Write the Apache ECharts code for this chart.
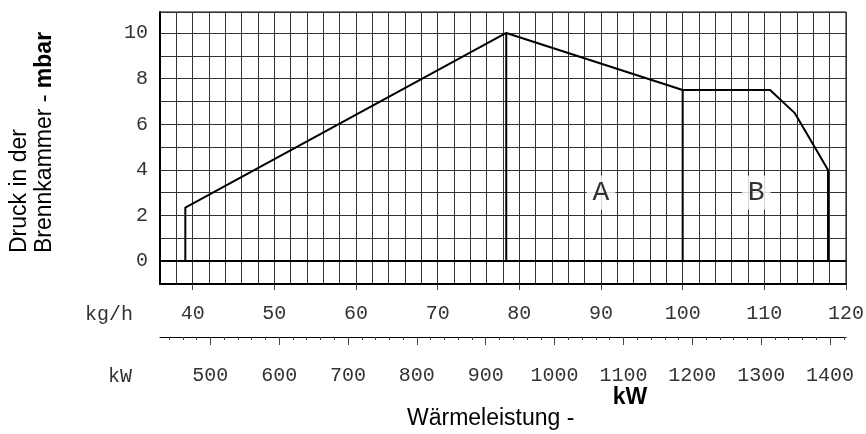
<!DOCTYPE html>
<html>
<head>
<meta charset="utf-8">
<script src="https://cdn.jsdelivr.net/npm/echarts@6/dist/echarts.min.js"></script>
<style>
  html, body { margin: 0; padding: 0; background: #fff; }
  #chart { width: 866px; height: 434px; }
</style>
</head>
<body>
<div id="chart"></div>
<script>
// Arbeitsfeld: Durchsatz (kg/h) gegen Druck in der Brennkammer (mbar)
var outlineX = [39.1, 39.1, 78.4, 100, 110.7, 113.7, 116.0, 117.8, 117.8];
var outlineY = [0, 2.35, 10, 7.5, 7.5, 6.5, 5.1, 4.0, 0];
var dividerAX = [78.4, 78.4];
var dividerAY = [0, 10];
var dividerBX = [100, 100];
var dividerBY = [0, 7.5];

var zoneNames = ['A', 'B'];
var zoneX = [90, 109];
var zoneY = [3, 3];

var pressureLabels = [0, 2, 4, 6, 8, 10];
var massTicks = [40, 50, 60, 70, 80, 90, 100, 110, 120];
var powerTicks = [500, 600, 700, 800, 900, 1000, 1100, 1200, 1300, 1400];
var powerMinorTicks = [440, 460, 480, 500, 520, 540, 560, 580, 600, 620, 640, 660, 680, 700,
  720, 740, 760, 780, 800, 820, 840, 860, 880, 900, 920, 940, 960, 980, 1000, 1020, 1040,
  1060, 1080, 1100, 1120, 1140, 1160, 1180, 1200, 1220, 1240, 1260, 1280, 1300, 1320, 1340,
  1360, 1380, 1400, 1420];

var massMin = 36, massMax = 120;
var kwPerKg = 11.86; // kW je kg/h
var kwMin = massMin * kwPerKg, kwMax = massMax * kwPerKg;

function pairs(xs, ys) {
  return xs.map(function (x, i) { return [x, ys[i]]; });
}
function plain(v) {
  return String(Math.round(v));
}

var monoFont = 'Liberation Mono';
var sansFont = 'Liberation Sans';

var option = {
  animation: false,
  backgroundColor: '#fff',
  grid: {
    left: 160, right: 20, top: 12, bottom: 150,
    show: true, borderColor: '#000', borderWidth: 1,
    containLabel: false, outerBoundsMode: 'none'
  },
  xAxis: [
    { // Raster alle 2 kg/h
      type: 'value', min: massMin, max: massMax, interval: 2, position: 'bottom',
      axisLine: {show: true, onZero: false, lineStyle: {color: '#000', width: 2}},
      axisTick: {show: false},
      axisLabel: {show: false},
      splitLine: {show: true, lineStyle: {color: '#333', width: 1}}
    },
    { // kg/h Beschriftung
      type: 'value', min: massMin, max: massMax, position: 'bottom',
      axisLine: {show: false, onZero: false},
      axisTick: {show: true, customValues: massTicks, length: 6, lineStyle: {color: '#444'}},
      axisLabel: {customValues: massTicks, formatter: plain, margin: 20, fontFamily: monoFont, fontSize: 20, color: '#333'},
      splitLine: {show: false}
    },
    { // kW Hauptstriche
      type: 'value', min: kwMin, max: kwMax, position: 'bottom', offset: 53,
      axisLine: {show: true, onZero: false, lineStyle: {color: '#000', width: 1}},
      axisTick: {show: true, customValues: powerTicks, length: 8, lineStyle: {color: '#444'}},
      axisLabel: {customValues: powerTicks, formatter: plain, margin: 29, fontFamily: monoFont, fontSize: 20, color: '#333'},
      splitLine: {show: false}
    },
    { // kW Zwischenstriche
      type: 'value', min: kwMin, max: kwMax, position: 'bottom', offset: 53,
      axisLine: {show: false, onZero: false},
      axisTick: {show: true, customValues: powerMinorTicks, length: 3, lineStyle: {color: '#444'}},
      axisLabel: {show: false},
      splitLine: {show: false}
    }
  ],
  yAxis: {
    type: 'value', min: -1, max: 10.92, interval: 1,
    axisLine: {show: true, onZero: false, lineStyle: {color: '#000', width: 2}},
    axisTick: {show: false},
    axisLabel: {
      margin: 12, fontFamily: monoFont, fontSize: 20, color: '#333',
      formatter: function (v) { return pressureLabels.indexOf(v) >= 0 ? String(v) : ''; }
    },
    splitLine: {show: true, lineStyle: {color: '#333', width: 1}}
  },
  series: [
    {
      type: 'line', xAxisIndex: 0, data: pairs(outlineX, outlineY),
      symbol: 'none', lineStyle: {color: '#000', width: 2},
      markLine: {
        silent: true, symbol: 'none', label: {show: false},
        lineStyle: {color: '#000', width: 2, type: 'solid'},
        data: [{yAxis: 0}]
      }
    },
    {
      type: 'line', xAxisIndex: 0, data: pairs(dividerAX, dividerAY),
      symbol: 'none', lineStyle: {color: '#000', width: 2}
    },
    {
      type: 'line', xAxisIndex: 0, data: pairs(dividerBX, dividerBY),
      symbol: 'none', lineStyle: {color: '#000', width: 2}
    },
    {
      type: 'scatter', xAxisIndex: 0, symbolSize: 1,
      itemStyle: {color: 'rgba(0,0,0,0)'},
      data: zoneNames.map(function (n, i) { return {name: n, value: [zoneX[i], zoneY[i]]}; }),
      label: {
        show: true, position: 'inside', formatter: '{b}',
        fontFamily: monoFont, fontSize: 28, color: '#000',
        backgroundColor: '#fff', padding: [3, 6]
      }
    }
  ],
  graphic: [
    {type: 'text', x: 20, y: 253, rotation: Math.PI / 2,
      style: {text: 'Druck in der', fontFamily: sansFont, fontSize: 23, fill: '#000', align: 'left', verticalAlign: 'middle'}},
    {type: 'text', x: 45, y: 253, rotation: Math.PI / 2,
      style: {text: 'Brennkammer - {b|mbar}', fontFamily: sansFont, fontSize: 23, fill: '#000', align: 'left', verticalAlign: 'middle',
        rich: {b: {fontFamily: sansFont, fontSize: 23, fontWeight: 'bold', fill: '#000'}}}},
    {type: 'text', x: 133, y: 315,
      style: {text: 'kg/h', fontFamily: monoFont, fontSize: 20, fill: '#333', align: 'right', verticalAlign: 'middle'}},
    {type: 'text', x: 132, y: 377,
      style: {text: 'kW', fontFamily: monoFont, fontSize: 20, fill: '#333', align: 'right', verticalAlign: 'middle'}},
    {type: 'text', x: 630, y: 398,
      style: {text: 'kW', fontFamily: sansFont, fontSize: 23, fontWeight: 'bold', fill: '#000', align: 'center', verticalAlign: 'middle'}},
    {type: 'text', x: 407, y: 419,
      style: {text: 'Wärmeleistung -', fontFamily: sansFont, fontSize: 23, fill: '#000', align: 'left', verticalAlign: 'middle'}}
  ]
};

var chart = echarts.init(document.getElementById('chart'));
chart.setOption(option);
</script>
</body>
</html>
